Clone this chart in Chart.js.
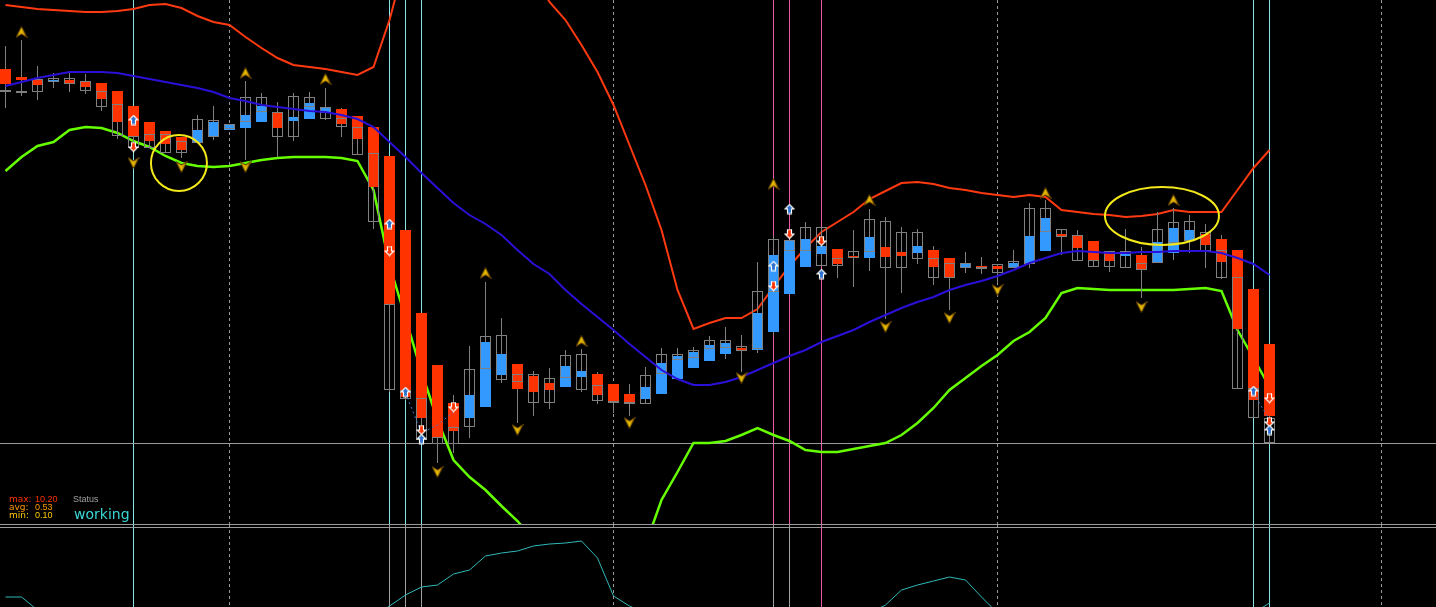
<!DOCTYPE html>
<html>
<head>
<meta charset="utf-8">
<script src="https://cdn.jsdelivr.net/npm/chart.js@4.4.1/dist/chart.umd.min.js"></script>
<style>
  html, body { margin: 0; padding: 0; background: #000; overflow: hidden; }
  #wrap { position: relative; width: 1436px; height: 607px; background: #000; }
  canvas { position: absolute; left: 0; display: block; }
  #main { top: 0; }
  #sub { top: 524px; }
  .lbl { position: absolute; white-space: nowrap; font-size: 9px; line-height: 9px; }
  .lab { font-family: "DejaVu Sans", sans-serif; }
  .num { font-family: "Liberation Sans", Arial, sans-serif; }
</style>
</head>
<body>
<div id="wrap">
  <canvas id="main" width="1436" height="524"></canvas>
  <canvas id="sub" width="1436" height="83"></canvas>

  <div class="lbl lab" style="left:9px;top:495px;color:#ff3300">max:</div>
  <div class="lbl num" style="left:35px;top:495px;color:#ff3300">10.20</div>
  <div class="lbl lab" style="left:9px;top:503px;color:#ff9900">avg:</div>
  <div class="lbl num" style="left:35px;top:503px;color:#ff9900">0.53</div>
  <div class="lbl lab" style="left:9px;top:511px;color:#ffcc00">min:</div>
  <div class="lbl num" style="left:35px;top:511px;color:#ffcc00">0.10</div>
  <div class="lbl num" style="left:73px;top:495px;color:#a0a0a0">Status</div>
  <div class="lbl lab" style="left:74px;top:507px;font-size:14px;line-height:14px;color:#3ad6d6">working</div>
</div>

<script>
// --- Data (price in points, 0 = bottom of the price window) ---
const barIndex = Array.from({ length: 80 }, (_, i) => i);

// gray candles (hollow body + wick)
const open = [
  434, 433, 445, 446, 446, 443, 433, 420, 388, 390,
  390, 383, 405, 404, 400, 427, 427, 412, 428, 427,
  417, 406, 397, 371, 220, 134, 126, 87, 97, 155,
  188, 189, 150, 150, 146, 169, 170, 139, 123, 122,
  149, 170, 170, 174, 184, 184, 178, 233, 285, 284,
  297, 297, 266, 273, 305, 303, 292, 292, 266, 261,
  261, 257, 260, 263, 316, 316, 295, 289, 264, 273,
  273, 261, 295, 302, 303, 292, 274, 247, 136, 106
];
const close = [
  432, 431, 432, 442, 440, 433, 417, 388, 376, 376,
  371, 371, 381, 387, 395, 402, 412, 387, 387, 417,
  405, 397, 369, 302, 134, 125, 84, 80, 80, 97,
  155, 144, 142, 121, 121, 146, 134, 123, 121, 120,
  120, 150, 164, 166, 175, 176, 173, 175, 232, 273,
  273, 258, 258, 266, 272, 256, 256, 265, 246, 246,
  256, 255, 251, 256, 260, 292, 287, 263, 257, 257,
  256, 254, 261, 281, 283, 273, 246, 135, 106, 81
];
const high = [
  478, 484, 458, 451, 452, 450, 441, 421, 396, 394,
  393, 383, 409, 418, 400, 443, 431, 422, 431, 432,
  436, 416, 408, 386, 368, 294, 211, 159, 129, 178,
  242, 206, 152, 153, 156, 174, 175, 152, 140, 140,
  157, 176, 176, 177, 188, 197, 189, 262, 288, 288,
  302, 297, 275, 294, 315, 307, 297, 295, 278, 266,
  272, 267, 260, 274, 321, 324, 295, 294, 283, 273,
  295, 277, 312, 316, 309, 300, 289, 274, 235, 180
];
const low = [
  416, 428, 424, 436, 432, 430, 413, 385, 374, 376,
  371, 366, 381, 384, 395, 364, 404, 367, 383, 407,
  404, 387, 369, 295, 132, 124, 83, 61, 71, 86,
  144, 141, 101, 108, 115, 137, 132, 120, 111, 108,
  120, 147, 157, 166, 167, 165, 152, 171, 189, 230,
  268, 258, 246, 237, 253, 205, 231, 260, 239, 214,
  251, 250, 241, 256, 256, 281, 269, 263, 257, 252,
  256, 226, 261, 264, 271, 256, 245, 135, 106, 81
];

// smoothed candles (filled bodies)
const haOpen = [
  455, 447, 445, 442, 444, 443, 441, 433, 418, 402,
  393, 387, 381, 387, 394, 396, 402, 412, 403, 405,
  411, 415, 408, 397, 368, 294, 211, 159, 121, 106,
  117, 149, 160, 148, 141, 137, 147, 150, 140, 130,
  125, 130, 145, 156, 163, 170, 176, 174, 192, 230,
  257, 270, 275, 268, 266, 277, 272, 271, 274, 266,
  256, 258, 258, 256, 260, 273, 290, 289, 283, 271,
  268, 269, 261, 271, 283, 290, 285, 274, 235, 180
];
const haClose = [
  440, 444, 439, 444, 441, 437, 425, 402, 388, 383,
  380, 374, 394, 402, 399, 409, 418, 396, 407, 421,
  416, 400, 385, 337, 220, 127, 106, 86, 93, 129,
  182, 170, 135, 132, 134, 158, 153, 129, 121, 121,
  137, 161, 168, 172, 179, 181, 173, 211, 269, 284,
  285, 278, 260, 266, 287, 267, 268, 278, 257, 246,
  261, 256, 255, 261, 288, 306, 287, 276, 264, 263,
  270, 254, 282, 296, 294, 279, 262, 195, 124, 108
];

// bands
const upperBand = [
  519, 517, 515, 514, 513, 512, 512, 513, 515, 519,
  520, 516, 508, 502, 499, 487, 476, 466, 459, 457,
  455, 452, 449, 457, 504, 564, 604, 624, 634, 634,
  624, 604, 579, 549, 522, 504, 479, 452, 419, 379,
  339, 294, 234, 195, 201, 206, 206, 215, 237, 258,
  276, 292, 302, 312, 325, 333, 341, 342, 340, 336,
  334, 331, 329, 327, 329, 327, 314, 312, 310, 309,
  307, 308, 310, 314, 312, 312, 312, 334, 356, 374
];
const middleBand = [
  438, 442, 446, 449, 452, 452, 452, 451, 448, 445,
  442, 439, 436, 432, 426, 423, 419, 417, 415, 413,
  412, 409, 405, 397, 382, 367, 351, 336, 321, 309,
  300, 289, 274, 260, 250, 234, 220, 207, 194, 180,
  167, 154, 145, 139, 139, 142, 147, 154, 161, 168,
  174, 182, 188, 194, 202, 209, 216, 222, 227, 234,
  239, 243, 248, 254, 261, 266, 271, 273, 272, 271,
  271, 272, 272, 273, 273, 273, 271, 266, 260, 249
];
const lowerBand = [
  353, 367, 378, 382, 394, 397, 396, 391, 383, 377,
  368, 361, 358, 357, 358, 361, 364, 366, 367, 367,
  367, 366, 363, 334, 259, 206, 152, 104, 64, 47,
  34, 18, 3, -16, -31, -46, -56, -61, -61, -51,
  -21, 24, 52, 81, 81, 83, 89, 96, 89, 83,
  74, 72, 72, 75, 78, 81, 89, 101, 116, 134,
  146, 158, 169, 183, 192, 206, 231, 236, 235, 234,
  234, 234, 234, 234, 235, 236, 233, 194, 166, 137
];

// lower window oscillator
const oscLine = [
  10, 10, -3, null, null, null, null, null, null, null,
  null, null, null, null, null, null, null, null, null, null,
  null, null, null, -10, 1, 12, 20, 22, 33, 37,
  51, 54, 56, 61, 63, 64, 66, 49, 11, 1,
  -6, null, null, null, null, null, null, null, null, null,
  null, null, null, null, -6, 2, 17, 22, 26, 30,
  27, 10, -6, null, null, null, null, null, null, null,
  null, null, null, null, null, null, null, null, -6, 4
];

// signals
const upFractalBars = [1, 15, 20, 30, 36, 48, 54, 65, 73];
const upFractalLevels = [492, 451, 445, 251, 183, 340, 324, 331, 324];
const downFractalBars = [8, 11, 15, 27, 32, 39, 46, 55, 59, 62, 71];
const downFractalLevels = [361, 357, 357, 52, 94, 101, 146, 197, 206, 234, 217];
const buyBars = [8, 24, 25, 26, 48, 49, 51, 78, 79];
const buyLevels = [404, 300, 132, 85, 258, 315, 250, 133, 94];
const sellBars = [8, 24, 26, 28, 48, 49, 51, 79, 79];
const sellLevels = [377, 273, 94, 117, 238, 290, 283, 126, 102];
const tradePathBars = [25, 26, 27, 28, 50, 78, 79];
const tradePathLevels = [131, 91, 99, 112, null, 131, 104];

// markers on the time axis
const markBars = [8, 24, 25, 26, 48, 49, 51, 78, 79];
const markColorsMain = ['c', 'c', 'c', 'c', 'p', 'p', 'p', 'c', 'c'];
const markColorsSub = ['c', 'g', 'g', 'g', 'g', 'g', 'p', 'c', 'c'];
const sessionBars = [14, 38, 62, 86];
const priceLevel = 81;
const circleBars = [10.84, 72.28];
const circleLevels = [361, 308];

// --- Styles ---
const COLORS = {
  bear: '#ff3300', bull: '#3399ff', box: '#808080',
  upper: '#ff3a10', middle: '#2a10d8', lower: '#66ff00', osc: '#30b8b8',
  c: '#86e6e6', p: '#ee5aa8', g: '#a0a0a0', grid: '#9a9a9a', circle: '#f2e81a'
};
const circleSizes = [[28, 28], [57, 29]];

function makeChevron(up) {
  const c = document.createElement('canvas');
  c.width = 12; c.height = 12;
  const g = c.getContext('2d');
  if (!up) { g.translate(0, 12); g.scale(1, -1); }
  g.beginPath();
  g.moveTo(6, 0.5);
  g.lineTo(11.5, 11.5);
  g.lineTo(6, 8);
  g.lineTo(0.5, 11.5);
  g.closePath();
  const grad = g.createLinearGradient(0, 0, 12, 12);
  grad.addColorStop(0, '#ffea00');
  grad.addColorStop(1, '#c07a00');
  g.fillStyle = grad;
  g.fill();
  g.strokeStyle = '#5a3c00';
  g.lineWidth = 1;
  g.stroke();
  return c;
}

function makeArrow(up, fill) {
  const c = document.createElement('canvas');
  c.width = 11; c.height = 11;
  const g = c.getContext('2d');
  if (!up) { g.translate(0, 11); g.scale(1, -1); }
  g.beginPath();
  g.moveTo(5.5, 1);
  g.lineTo(10, 5.5);
  g.lineTo(7.5, 5.5);
  g.lineTo(7.5, 10);
  g.lineTo(3.5, 10);
  g.lineTo(3.5, 5.5);
  g.lineTo(1, 5.5);
  g.closePath();
  g.fillStyle = fill;
  g.fill();
  g.strokeStyle = '#ffffff';
  g.lineWidth = 1.2;
  g.stroke();
  return c;
}

const pts = (bars, vals) => bars.map((b, i) => ({ x: b, y: vals[i] }));
const series = vals => vals.map((v, i) => ({ x: barIndex[i], y: v }));

function xAxis() {
  return { type: 'linear', min: -0.34375, max: 89.40625, offset: false, display: false };
}

function drawVerticals(chart, colorKeys) {
  const { ctx, scales: { x } } = chart;
  const h = chart.height;
  ctx.save();
  ctx.lineWidth = 1;
  ctx.strokeStyle = COLORS.grid;
  ctx.setLineDash([3, 3]);
  sessionBars.forEach(b => {
    const px = Math.floor(x.getPixelForValue(b)) + 0.5;
    ctx.beginPath(); ctx.moveTo(px, 0); ctx.lineTo(px, h); ctx.stroke();
  });
  ctx.setLineDash([]);
  markBars.forEach((b, i) => {
    const px = Math.floor(x.getPixelForValue(b)) + 0.5;
    ctx.strokeStyle = COLORS[colorKeys[i]];
    ctx.beginPath(); ctx.moveTo(px, 0); ctx.lineTo(px, h); ctx.stroke();
  });
  ctx.restore();
}

const mainOverlay = {
  id: 'mainOverlay',
  beforeDatasetsDraw(chart) {
    drawVerticals(chart, markColorsMain);
    const { ctx, scales: { y } } = chart;
    const py = Math.floor(y.getPixelForValue(priceLevel)) + 0.5;
    ctx.save();
    ctx.strokeStyle = COLORS.grid;
    ctx.lineWidth = 1;
    ctx.beginPath(); ctx.moveTo(0, py); ctx.lineTo(chart.width, py); ctx.stroke();
    ctx.restore();
  },
  afterDatasetsDraw(chart) {
    const { ctx, scales: { x, y } } = chart;
    ctx.save();
    ctx.strokeStyle = COLORS.circle;
    ctx.lineWidth = 2;
    circleBars.forEach((b, i) => {
      ctx.beginPath();
      ctx.ellipse(x.getPixelForValue(b), y.getPixelForValue(circleLevels[i]),
        circleSizes[i][0], circleSizes[i][1], 0, 0, Math.PI * 2);
      ctx.stroke();
    });
    ctx.restore();
  }
};

const subOverlay = {
  id: 'subOverlay',
  beforeDatasetsDraw(chart) {
    drawVerticals(chart, markColorsSub);
    const { ctx } = chart;
    ctx.save();
    ctx.fillStyle = COLORS.grid;
    ctx.fillRect(0, 0, chart.width, 1);
    ctx.fillRect(0, 3, chart.width, 1);
    ctx.restore();
  }
};

const barCommon = { grouped: false, borderSkipped: false, inflateAmount: 0 };

// --- Price window ---
new Chart(document.getElementById('main'), {
  type: 'bar',
  data: {
    datasets: [
      { type: 'scatter', data: pts(upFractalBars, upFractalLevels), pointStyle: makeChevron(true), order: 0 },
      { type: 'scatter', data: pts(downFractalBars, downFractalLevels), pointStyle: makeChevron(false), order: 0 },
      { type: 'scatter', data: pts(buyBars, buyLevels), pointStyle: makeArrow(true, '#2a6fcf'), order: 0 },
      { type: 'scatter', data: pts(sellBars, sellLevels), pointStyle: makeArrow(false, '#ff3300'), order: 0 },
      { type: 'line', data: pts(tradePathBars, tradePathLevels), borderColor: '#3a78d8', borderWidth: 1,
        borderDash: [2, 3], pointRadius: 0, spanGaps: false, order: 1 },
      { type: 'line', data: series(middleBand), borderColor: COLORS.middle, borderWidth: 2,
        pointRadius: 0, tension: 0, order: 1 },
      { type: 'bar', data: barIndex.map(i => ({ x: i, y: [close[i], open[i]] })),
        backgroundColor: 'rgba(0,0,0,0)', borderColor: COLORS.box, borderWidth: 1,
        barThickness: 11, order: 2, ...barCommon },
      { type: 'bar', data: barIndex.map(i => ({ x: i, y: [haOpen[i], haClose[i]] })),
        backgroundColor: barIndex.map(i => haClose[i] > haOpen[i] ? COLORS.bull : COLORS.bear),
        borderWidth: 0, barThickness: 11, order: 3, ...barCommon },
      { type: 'bar', data: barIndex.map(i => ({ x: i, y: [low[i], high[i]] })),
        backgroundColor: COLORS.box, borderWidth: 0, barThickness: 1, order: 4, ...barCommon },
      { type: 'line', data: series(upperBand), borderColor: COLORS.upper, borderWidth: 2,
        pointRadius: 0, tension: 0, order: 5 },
      { type: 'line', data: series(lowerBand), borderColor: COLORS.lower, borderWidth: 2.5,
        pointRadius: 0, tension: 0, order: 5 }
    ]
  },
  options: {
    responsive: false,
    animation: false,
    events: [],
    layout: { padding: 0, autoPadding: false },
    plugins: { legend: { display: false }, tooltip: { enabled: false } },
    scales: {
      x: xAxis(),
      y: { min: 0, max: 524, display: false }
    }
  },
  plugins: [mainOverlay]
});

// --- Lower window ---
new Chart(document.getElementById('sub'), {
  type: 'line',
  data: {
    datasets: [
      { data: series(oscLine), borderColor: COLORS.osc, borderWidth: 1, pointRadius: 0,
        tension: 0, spanGaps: false }
    ]
  },
  options: {
    responsive: false,
    animation: false,
    events: [],
    layout: { padding: { top: 4 }, autoPadding: false },
    plugins: { legend: { display: false }, tooltip: { enabled: false } },
    scales: {
      x: xAxis(),
      y: { min: 0, max: 79, display: false }
    }
  },
  plugins: [subOverlay]
});
</script>
</body>
</html>
